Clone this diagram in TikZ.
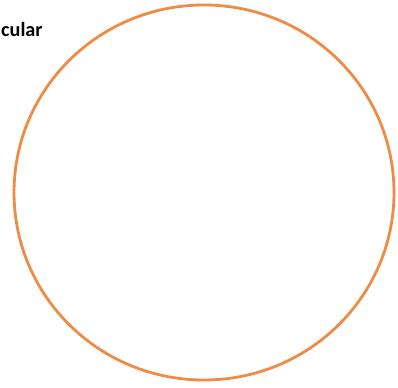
\documentclass[tikz,border=0pt]{standalone}
\usepackage{fontspec}
\setmainfont{Carlito}
\usepackage{tikz}
\definecolor{ringorange}{RGB}{238,140,70}
\begin{document}
\begin{tikzpicture}[x=0.02cm,y=-0.02cm,
    ring/.style={draw=ringorange, line width=1.6pt},
    tag/.style={font=\fontsize{11.5}{13}\selectfont\bfseries, inner sep=0pt}
]
\useasboundingbox (0,0) rectangle (398,387);

% circle
\draw[ring] (204,192.5) ellipse [x radius=190, y radius=187.5];

% cut-off label
\node[tag, anchor=base east] (lbl) at (43,36) {cular};
\end{tikzpicture}
\end{document}
